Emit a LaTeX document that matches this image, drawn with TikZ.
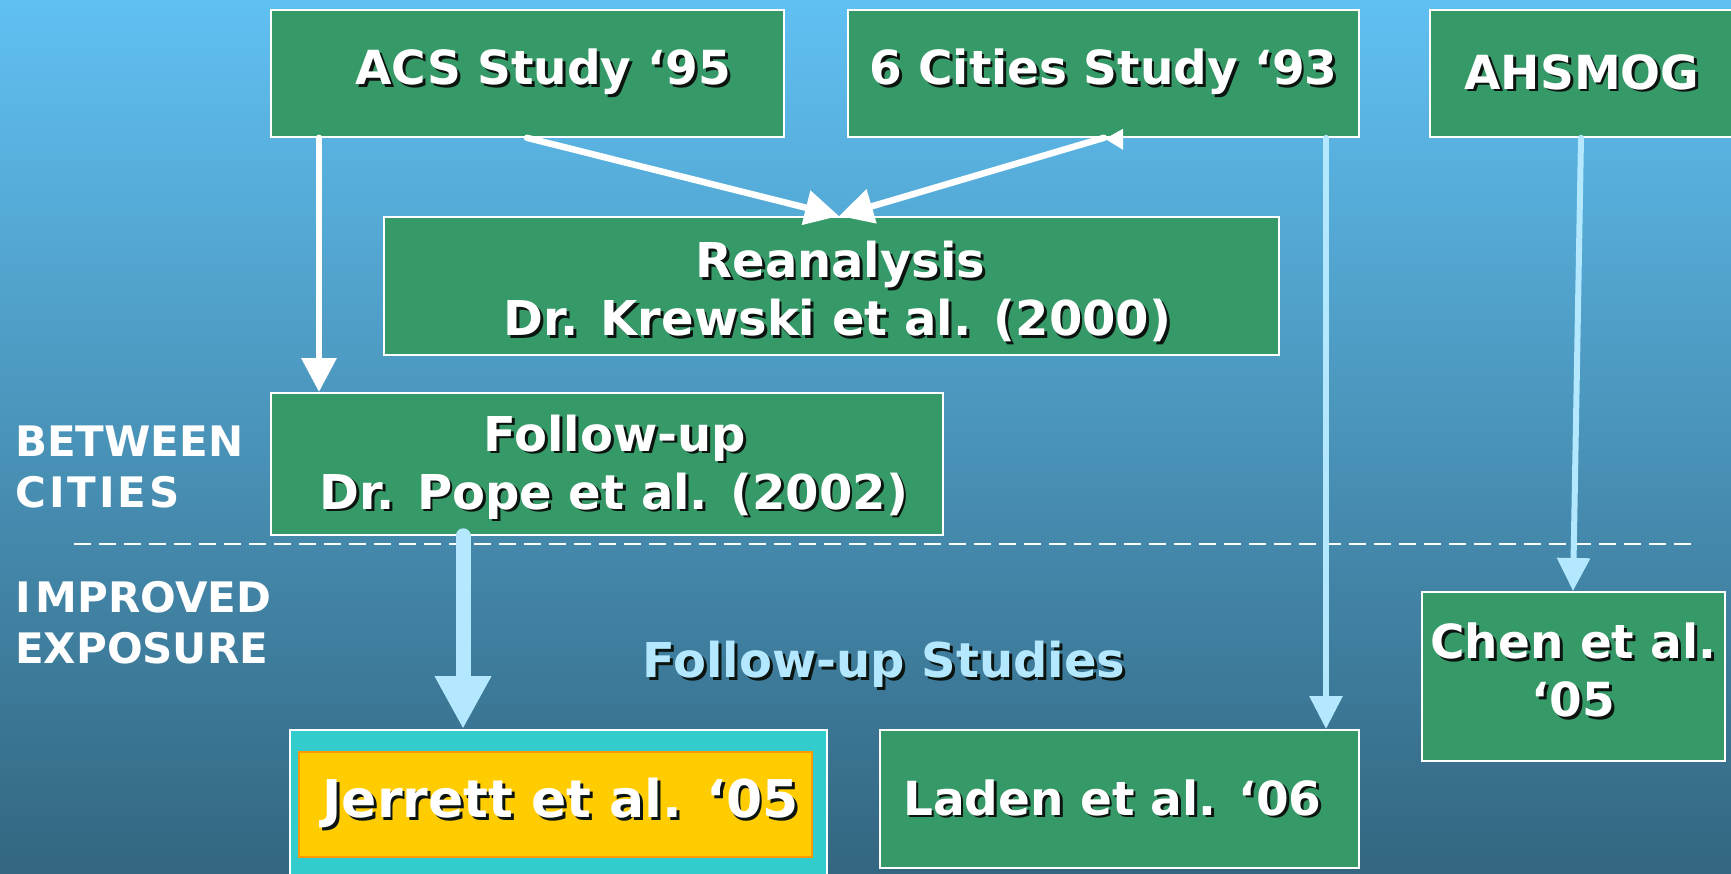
\documentclass[tikz,border=0pt]{standalone}
\usepackage{fontspec}
\setmainfont{DejaVu Sans}
\usetikzlibrary{arrows.meta,calc}
\definecolor{bgtop}{RGB}{96,192,242}
\definecolor{bgbot}{RGB}{51,102,128}
\definecolor{boxgreen}{RGB}{53,153,104}
\definecolor{lblue}{RGB}{180,232,255}
\definecolor{cyanbox}{RGB}{51,204,204}
\definecolor{goldbox}{RGB}{255,204,0}
\definecolor{orangeedge}{RGB}{255,153,0}
\definecolor{shadowc}{RGB}{12,20,16}
\newcommand\shd[1]{\leavevmode\rlap{\kern2.8pt\raisebox{-2.8pt}{\color{shadowc}#1}}#1}
\newcommand\bigfont{\bfseries\fontsize{48}{58}\selectfont}
\begin{document}
\begin{tikzpicture}[x=1pt,y=-1pt,
  box/.style={draw=white, line width=1.8pt, fill=boxgreen, text=white,
    font=\bfseries\fontsize{47}{58}\selectfont, align=center, inner sep=0pt,
    anchor=north west},
  side/.style={text=white, font=\bfseries\fontsize{42}{51}\selectfont,
    align=left, inner sep=0pt, anchor=west},
  warrow/.style={draw=white, line width=6.5pt, line cap=round,
    -{Triangle[length=34pt,width=34pt]}},
  barrow/.style={draw=lblue, line width=6pt, line cap=round,
    -{Triangle[length=33pt,width=32pt]}},
  bigarrow/.style={draw=lblue, line width=15pt, line cap=round,
    -{Triangle[length=53pt,width=53pt]}}
]
\useasboundingbox (0,0) rectangle (1731,874);
\shade[top color=bgtop, bottom color=bgbot] (0,0) rectangle (1731,874);

% boxes
\node[box, minimum width=513pt, minimum height=127pt] (acs) at (270,9)
  {\hspace*{32pt}\shd{ACS Study ‘95}};
\node[box, minimum width=511pt, minimum height=127pt] (six) at (847,9)
  {\shd{6 Cities Study ‘93}};
\node[box, minimum width=310pt, minimum height=127pt] (ahs) at (1429,9)
  {\shd{AHSMOG}\hspace*{6pt}};
\node[box, font=\bigfont, minimum width=895pt, minimum height=138pt] (rea) at (383,216)
  {\rule{0pt}{50pt}\hspace*{18pt}\shd{Reanalysis}\\\hspace*{12pt}\shd{Dr. Krewski et al. (2000)}};
\node[box, font=\bigfont, minimum width=672pt, minimum height=142pt] (pope) at (270,392)
  {\rule{0pt}{45pt}\hspace*{16pt}\shd{Follow-up}\\\hspace*{14pt}\shd{Dr. Pope et al. (2002)}};
\node[box, fill=cyanbox, minimum width=537pt, minimum height=170pt] (jerout) at (289,729) {};
\node[box, fill=goldbox, draw=orangeedge, line width=2pt, minimum width=513pt,
  minimum height=105pt, font=\bfseries\fontsize{52}{60}\selectfont] (jer) at (298,751)
  {\hspace*{10pt}\shd{Jerrett et al. ‘05}};
\node[box, minimum width=479pt, minimum height=138pt] (laden) at (879,729)
  {\shd{Laden et al. ‘06}\hspace*{14pt}};
\node[box, minimum width=303pt, minimum height=169pt] (chen) at (1421,591)
  {\shd{Chen et al.}\\\shd{‘05}\rule[-14pt]{0pt}{14pt}};

% labels
\node[side] (between) at (15,467) {BETWEEN\\C\kern3pt I\kern3pt T\kern3pt I\kern3pt E\kern3pt S};
\node[side] (improved) at (15,623) {I\kern5pt MPROVED\\EXPOSURE};
\node[text=lblue, font=\bigfont, inner sep=0pt]
  (fus) at (884,666) {\shd{Follow-up Studies}};

% dashed separator
\coordinate (dashL) at (74,544);
\coordinate (dashR) at (1692,544);
\draw[white, line width=2pt, dash pattern=on 17pt off 8pt] (dashL) -- (dashR);

% connectors
\coordinate (reaTop) at ($(rea.north west)+(456,0)$);
\coordinate (sixS) at ($(six.south west)+(257,0)$);
\draw[warrow] ($(acs.south west)+(49,0)$) -- ($(pope.north west)+(49,0)$);
\draw[warrow] ($(acs.south west)+(257,0)$) -- (reaTop);
\draw[warrow] (sixS) -- (reaTop);
\fill[white] ($(sixS)+(1,1)$) -- ++(18,-10) -- ++(0,21) -- cycle;
\draw[barrow] ($(six.south west)+(479,0)$) -- ($(laden.north west)+(447,0)$);
\draw[barrow] ($(ahs.south west)+(152,0)$) -- ($(chen.north west)+(152,0)$);
\draw[bigarrow] ($(pope.south west)+(193,0)$) -- ($(jerout.north west)+(174,0)$);
\end{tikzpicture}
\end{document}
